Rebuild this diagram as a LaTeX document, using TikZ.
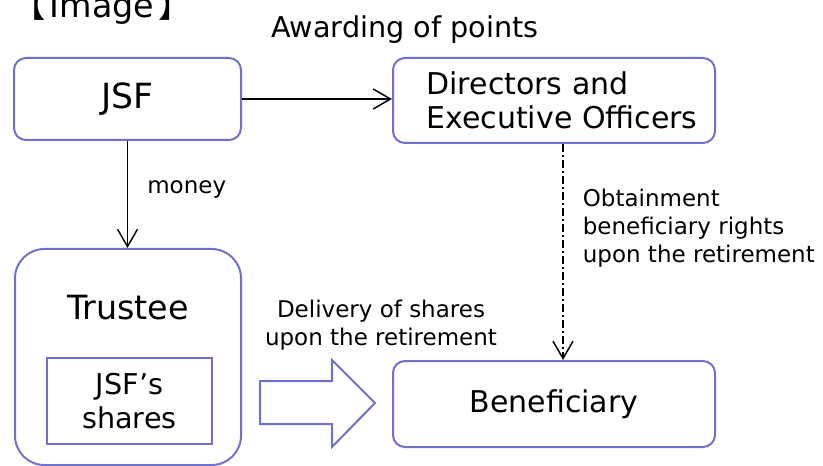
\documentclass[tikz,border=0pt]{standalone}
\usepackage{fontspec}
\setmainfont{DejaVu Sans}
\newfontfamily\cjk{Noto Sans CJK JP}
\usetikzlibrary{positioning, arrows.meta}
\definecolor{boxblue}{RGB}{112,112,208}

\tikzset{
  box/.style={draw=boxblue, line width=1.5pt, rounded corners=9pt, align=center,
    font=\fontsize{22.5}{25.5}\selectfont},
  note/.style={align=center, font=\fontsize{17.25}{21}\selectfont},
  flow/.style={line width=1.1pt, -{Straight Barb[length=13pt,width=15pt]}},
}

\begin{document}
\begin{tikzpicture}[x=0.75pt, y=-0.75pt]
   \useasboundingbox (0,0) rectangle (823,466);

   \node (title) at (102,18) [anchor=base, font=\fontsize{25}{25}\selectfont]
      {{\cjk 【}\hspace{0.12em}Image\hspace{0.12em}{\cjk 】}};

   \node[box, minimum width=170.25pt, minimum height=61.5pt,
      font=\fontsize{26}{26}\selectfont] (jsf) at (127.5,99) {JSF};
   \node[box, align=left, minimum width=241.5pt, minimum height=63.75pt] (dir) at (554,100.5)
      {\hspace*{12pt}Directors and\\\hspace*{12pt}Executive Officers};
   \node[box, rounded corners=22pt, minimum width=169.5pt, minimum height=162pt]
      (trustee) at (128,357) {};
   \node[font=\fontsize{25}{25}\selectfont] (trustlbl) [below=32pt of trustee.north] {Trustee};
   \node[box, rounded corners=0pt, minimum width=123.75pt, minimum height=64.5pt,
      font=\fontsize{21.5}{26}\selectfont] (shares) at (129.5,401) {JSF’s\\shares};
   \node[box, minimum width=241.5pt, minimum height=64.5pt] (ben) at (554,404) {Beneficiary};

   % labels
   \node[note, font=\fontsize{21.5}{21.5}\selectfont] (award) at (405,30) {Awarding of points};
   \node[note] (deliver) at (381,325) {Delivery of shares\\upon the retirement};

   % arrows
   \draw[flow] (jsf.east) -- (jsf.east -| dir.west);
   \draw[flow] (jsf.south) -- node[note, right=11pt, pos=0.45] {money} (trustee.north -| jsf.south);
   \draw[flow, dash pattern=on 6pt off 2.5pt on 1pt off 2.5pt]
      ([xshift=6.75pt]dir.south) -- node[note, align=left, right=11pt, pos=0.39]
      {Obtainment\\beneficiary rights\\upon the retirement} ([xshift=6.75pt]ben.north);

   % block arrow
   \draw[draw=boxblue, line width=1.5pt] (260,381) -- (332,381) -- (332,360) -- (375,403)
      -- (332,447) -- (332,424) -- (260,424) -- cycle;
\end{tikzpicture}
\end{document}
